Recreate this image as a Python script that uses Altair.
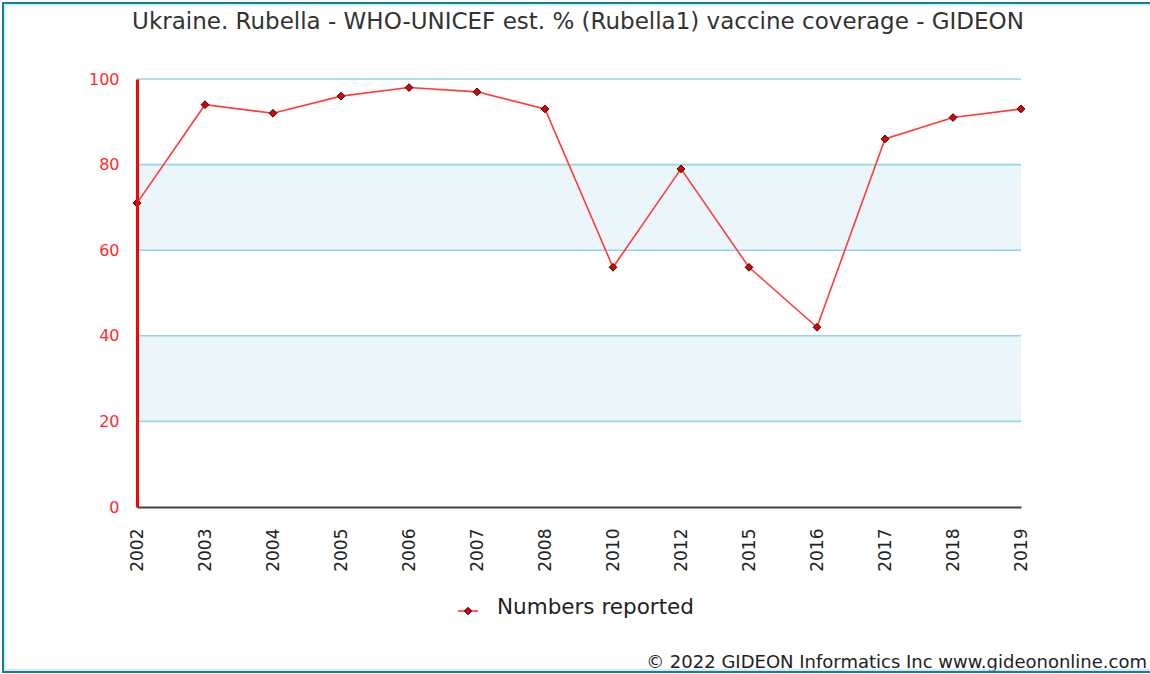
import altair as alt
import pandas as pd

# Survey years and WHO-UNICEF Rubella1 coverage (%)
years = ["2002", "2003", "2004", "2005", "2006", "2007", "2008",
         "2010", "2012", "2015", "2016", "2017", "2018", "2019"]
coverage = [71, 94, 92, 96, 98, 97, 93, 56, 79, 56, 42, 86, 91, 93]

# Shaded horizontal bands
band_low = [20, 60]
band_high = [40, 80]

y_ticks = [0, 20, 40, 60, 80, 100]
grid_lines = [20, 40, 60, 80, 100]

title_text = "Ukraine. Rubella - WHO-UNICEF est. % (Rubella1) vaccine coverage - GIDEON"
legend_text = "Numbers reported"
credit_text = "\u00a9 2022 GIDEON Informatics Inc www.gideononline.com"

FONT = "DejaVu Sans"
W, H = 884, 428
PAD_L, PAD_T = 137, 79

df = pd.DataFrame({"year": years, "value": coverage})
bands = pd.DataFrame({"lo": band_low, "hi": band_high})
grid = pd.DataFrame({"g": grid_lines})
one = alt.Data(values=[{}])

x_enc = alt.X("year:N", sort=years, title=None,
              scale=alt.Scale(type="point", padding=0),
              axis=alt.Axis(labelAngle=-90, labelFontSize=17, labelFont=FONT,
                            labelColor="#222222", labelPadding=21, ticks=False,
                            domainColor="#444444", domainWidth=2, grid=False,
                            zindex=1))
y_scale = alt.Scale(domain=[0, 100], nice=False)

band_layer = alt.Chart(bands).mark_rect(color="#ebf6fb").encode(
    x=alt.value(0), x2=alt.value(W),
    y=alt.Y("lo:Q", scale=y_scale), y2="hi:Q")

grid_layer = alt.Chart(grid).mark_rule(color="#96d3ea", strokeWidth=1.6).encode(
    x=alt.value(0), x2=alt.value(W),
    y=alt.Y("g:Q", scale=y_scale))

axis_layer = alt.Chart(df).mark_line(opacity=0).encode(
    x=x_enc,
    y=alt.Y("value:Q", scale=y_scale, title=None,
            axis=alt.Axis(values=y_ticks, labelFontSize=16, labelFont=FONT,
                          labelColor="#ff2a2a", labelPadding=18, ticks=False,
                          domainColor="#ff0000", domainWidth=3, grid=False,
                          zindex=1)))

line_layer = alt.Chart(df).mark_line(color="#ff3b3b", strokeWidth=1.6).encode(
    x=alt.X("year:N", sort=years), y=alt.Y("value:Q", scale=y_scale))

point_layer = alt.Chart(df).mark_point(
    shape="diamond", filled=True, fill="#e00000", stroke="#111111",
    strokeWidth=1, size=60, opacity=1).encode(
    x=alt.X("year:N", sort=years), y=alt.Y("value:Q", scale=y_scale))

title_layer = alt.Chart(one).mark_text(
    text=title_text, font=FONT, fontSize=23, color="#333333",
    align="center", baseline="middle").encode(
    x=alt.value(441), y=alt.value(-57))

legend_line = alt.Chart(one).mark_rule(color="#ff3b3b", strokeWidth=1.6).encode(
    x=alt.value(321), x2=alt.value(341), y=alt.value(532))
legend_point = alt.Chart(one).mark_point(
    shape="diamond", filled=True, fill="#e00000", stroke="#111111",
    strokeWidth=1, size=55, opacity=1).encode(
    x=alt.value(331), y=alt.value(532))
legend_label = alt.Chart(one).mark_text(
    text=legend_text, font=FONT, fontSize=21.5, color="#222222",
    align="left", baseline="middle").encode(
    x=alt.value(360), y=alt.value(529))

credit_layer = alt.Chart(one).mark_text(
    text=credit_text, font=FONT, fontSize=18, color="#222222",
    align="right", baseline="alphabetic").encode(
    x=alt.value(1010), y=alt.value(589))

frame_outer = alt.Chart(one).mark_rect(
    fill="transparent", stroke="#1b7a9c", strokeWidth=2).encode(
    x=alt.value(-134), x2=alt.value(1020), y=alt.value(-76), y2=alt.value(593))
frame_inner = alt.Chart(one).mark_rect(
    fill="transparent", stroke="#a9d8ea", strokeWidth=1).encode(
    x=alt.value(-132), x2=alt.value(1020), y=alt.value(-74), y2=alt.value(591))

chart = alt.layer(
    band_layer, grid_layer, axis_layer, line_layer, point_layer,
    title_layer, legend_line, legend_point, legend_label, credit_layer,
    frame_outer, frame_inner
).properties(
    width=W, height=H,
    autosize=alt.AutoSizeParams(type="none"),
    padding={"left": PAD_L, "top": PAD_T, "right": 1150 - PAD_L - W,
             "bottom": 674 - PAD_T - H},
    background="white"
).configure_view(stroke=None)

chart.save("out.html", embed_options={"renderer": "svg", "actions": False})
